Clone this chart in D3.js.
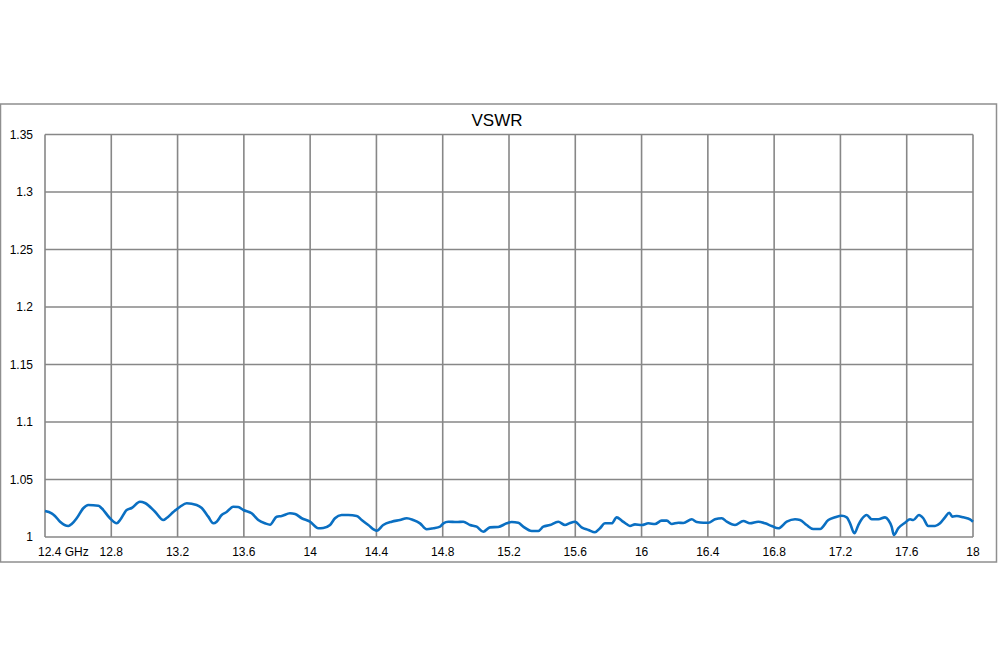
<!DOCTYPE html>
<html>
<head>
<meta charset="utf-8">
<script src="https://cdn.jsdelivr.net/npm/d3@7"></script>
<style>
  html, body { margin: 0; padding: 0; background: #fff; }
  svg { display: block; }
  text { font-family: "Liberation Sans", "DejaVu Sans", sans-serif; fill: #000; }
</style>
</head>
<body>
<svg id="chart" width="1000" height="667"></svg>
<script>
// ---- data ----
const title = "VSWR";
const freqGHz = [12.400,12.440,12.460,12.491,12.541,12.561,12.591,12.631,12.661,12.722,12.742,12.792,12.833,12.853,12.893,12.923,12.973,13.003,13.064,13.114,13.134,13.174,13.215,13.255,13.315,13.346,13.385,13.416,13.436,13.466,13.496,13.536,13.566,13.597,13.647,13.687,13.728,13.758,13.798,13.828,13.878,13.909,13.949,13.999,14.049,14.079,14.120,14.150,14.190,14.230,14.281,14.311,14.351,14.402,14.441,14.492,14.542,14.583,14.622,14.663,14.703,14.743,14.784,14.804,14.834,14.884,14.924,14.965,15.005,15.045,15.085,15.135,15.186,15.216,15.256,15.286,15.337,15.377,15.407,15.447,15.497,15.538,15.568,15.598,15.638,15.679,15.719,15.749,15.779,15.820,15.850,15.880,15.900,15.930,15.960,16.001,16.041,16.081,16.121,16.152,16.182,16.222,16.252,16.303,16.333,16.373,16.403,16.443,16.484,16.514,16.564,16.614,16.654,16.704,16.745,16.785,16.825,16.876,16.926,16.956,16.996,17.036,17.077,17.127,17.167,17.208,17.238,17.258,17.284,17.308,17.328,17.359,17.389,17.429,17.469,17.489,17.509,17.523,17.549,17.590,17.620,17.640,17.674,17.700,17.730,17.771,17.801,17.831,17.857,17.875,17.902,17.942,17.982,18.000];
const vswr = [1.0226,1.0206,1.0183,1.0133,1.0096,1.0113,1.0163,1.0250,1.0278,1.0272,1.0250,1.0163,1.0119,1.0148,1.0235,1.0252,1.0307,1.0296,1.0220,1.0148,1.0165,1.0217,1.0263,1.0293,1.0278,1.0252,1.0177,1.0119,1.0133,1.0191,1.0217,1.0263,1.0261,1.0235,1.0206,1.0148,1.0119,1.0107,1.0177,1.0183,1.0206,1.0200,1.0163,1.0133,1.0076,1.0078,1.0104,1.0163,1.0191,1.0191,1.0183,1.0148,1.0104,1.0055,1.0104,1.0133,1.0148,1.0163,1.0148,1.0119,1.0067,1.0076,1.0090,1.0119,1.0133,1.0130,1.0133,1.0104,1.0090,1.0046,1.0084,1.0087,1.0119,1.0130,1.0124,1.0090,1.0052,1.0052,1.0090,1.0104,1.0133,1.0104,1.0122,1.0133,1.0084,1.0061,1.0041,1.0076,1.0119,1.0119,1.0171,1.0142,1.0122,1.0096,1.0110,1.0104,1.0119,1.0113,1.0142,1.0142,1.0113,1.0124,1.0122,1.0154,1.0130,1.0124,1.0124,1.0154,1.0163,1.0133,1.0104,1.0139,1.0119,1.0133,1.0119,1.0096,1.0076,1.0133,1.0154,1.0148,1.0104,1.0070,1.0070,1.0148,1.0171,1.0185,1.0171,1.0119,1.0032,1.0104,1.0154,1.0191,1.0154,1.0154,1.0171,1.0148,1.0090,1.0017,1.0076,1.0124,1.0154,1.0148,1.0191,1.0163,1.0096,1.0096,1.0119,1.0171,1.0211,1.0177,1.0183,1.0171,1.0154,1.0133];
const xTicks = [12.4,12.8,13.2,13.6,14.0,14.4,14.8,15.2,15.6,16.0,16.4,16.8,17.2,17.6,18.0];
const xTickLabels = ["12.4 GHz","12.8","13.2","13.6","14","14.4","14.8","15.2","15.6","16","16.4","16.8","17.2","17.6","18"];
const yTicks = [1,1.05,1.1,1.15,1.2,1.25,1.3,1.35];
const yTickLabels = ["1","1.05","1.1","1.15","1.2","1.25","1.3","1.35"];

// ---- layout ----
const svg = d3.select("#chart");
const plot = {left: 45, right: 973, top: 134.5, bottom: 537};
const x = d3.scaleLinear().domain([12.4, 18]).range([plot.left, plot.right]);
const y = d3.scaleLinear().domain([1, 1.35]).range([plot.bottom, plot.top]);
const gridColor = "#878787";

// outer frame
svg.append("rect")
  .attr("x", 0.5).attr("y", 104).attr("width", 996).attr("height", 458)
  .attr("fill", "#fff").attr("stroke", "#8f8f8f").attr("stroke-width", 1.5);

// title
svg.append("text")
  .attr("x", 497).attr("y", 126)
  .attr("text-anchor", "middle")
  .attr("font-size", 17)
  .text(title);

// grid
const g = svg.append("g");
g.selectAll("line.h").data(yTicks).join("line")
  .attr("x1", plot.left).attr("x2", plot.right)
  .attr("y1", d => y(d)).attr("y2", d => y(d))
  .attr("stroke", gridColor).attr("stroke-width", 1.6);
g.selectAll("line.v").data(xTicks).join("line")
  .attr("y1", plot.top).attr("y2", plot.bottom)
  .attr("x1", d => x(d)).attr("x2", d => x(d))
  .attr("stroke", gridColor).attr("stroke-width", 1.6);

// y labels
svg.selectAll("text.ylab").data(yTicks).join("text")
  .attr("class", "ylab")
  .attr("x", 33).attr("y", d => y(d) + 4)
  .attr("text-anchor", "end").attr("font-size", 12)
  .text((d, i) => yTickLabels[i]);

// x labels
svg.selectAll("text.xlab").data(xTicks).join("text")
  .attr("class", "xlab")
  .attr("x", (d, i) => i === 0 ? 38 : x(d))
  .attr("y", 556)
  .attr("text-anchor", (d, i) => i === 0 ? "start" : "middle")
  .attr("font-size", 12)
  .text((d, i) => xTickLabels[i]);

// line
const pts = freqGHz.map((f, i) => [f, vswr[i]]);
svg.append("path")
  .datum(pts)
  .attr("fill", "none")
  .attr("stroke", "#0a6fc2")
  .attr("stroke-width", 2.6)
  .attr("stroke-linejoin", "round")
  .attr("d", d3.line().curve(d3.curveMonotoneX).x(d => x(d[0])).y(d => y(d[1])));
</script>
</body>
</html>
